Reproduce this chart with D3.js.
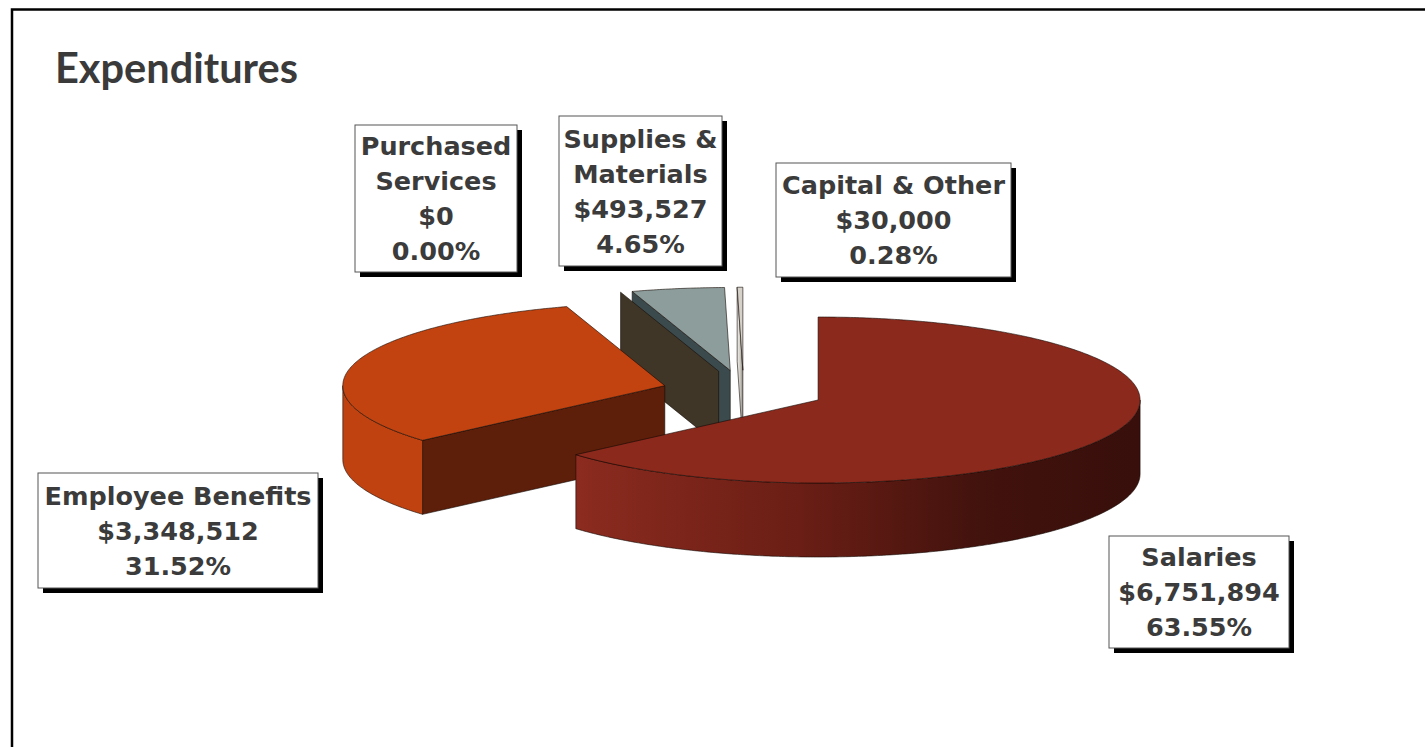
<!DOCTYPE html>
<html>
<head>
<meta charset="utf-8">
<script src="https://cdn.jsdelivr.net/npm/d3@7"></script>
<style>
  html, body { margin: 0; padding: 0; background: #fff; }
  svg { display: block; }
</style>
</head>
<body>
<svg id="chart" width="1425" height="747"></svg>
<script>
// ---- data ----
const categories = ["Salaries", "Employee Benefits", "Purchased Services", "Supplies & Materials", "Capital & Other"];
const values = [6751894, 3348512, 0, 493527, 30000];
const labelLines = [["Salaries"], ["Employee Benefits"], ["Purchased", "Services"], ["Supplies &", "Materials"], ["Capital & Other"]];

// ---- styles ----
const topColors = ["#8c291d", "#c24310", "#3f3628", "#8d9d9b", "#d6d2ca"];
const sideColors = ["url(#salSide)", "#bf4210", "#3f3628", "#3b4a4c", "#bdbab4"];
const radialColors = ["#5a1a12", "#5d1e0a", "#3f3628", "#3b4a4c", "url(#capFace)"];

// label box layout (x, y, width, height)
const labelBoxes = [
  { x: 1109, y: 536, w: 180, h: 112 },
  { x: 38, y: 473, w: 280, h: 115 },
  { x: 355, y: 125, w: 162, h: 147 },
  { x: 559, y: 116, w: 163, h: 150 },
  { x: 776, y: 163, w: 235, h: 114 }
];

const W = 1425, H = 747;
const svg = d3.select("#chart");

const defs = svg.append("defs");
const g1 = defs.append("linearGradient").attr("id", "salSide")
  .attr("gradientUnits", "userSpaceOnUse").attr("x1", 575).attr("x2", 1140).attr("y1", 0).attr("y2", 0);
[[0, "#8c2b1f"], [0.4, "#6a1e15"], [0.72, "#42120d"], [1, "#380f0b"]].forEach(s =>
  g1.append("stop").attr("offset", s[0]).attr("stop-color", s[1]));
const g2 = defs.append("linearGradient").attr("id", "capFace")
  .attr("x1", 0).attr("x2", 1).attr("y1", 0).attr("y2", 0);
[[0, "#f2f0ea"], [0.5, "#cfccc4"], [1, "#8e8b85"]].forEach(s =>
  g2.append("stop").attr("offset", s[0]).attr("stop-color", s[1]));

// outer frame
svg.append("rect")
  .attr("x", 12).attr("y", 9.5).attr("width", W + 40).attr("height", H + 40)
  .attr("fill", "#fff").attr("stroke", "#000").attr("stroke-width", 2.5);

// title
svg.append("text")
  .attr("x", 55).attr("y", 83)
  .attr("font-family", "Lato, 'Open Sans', sans-serif")
  .attr("font-weight", 700).attr("font-size", 41.5)
  .attr("fill", "#3a3a3a")
  .text("Expenditures");

// ---- pie geometry ----
const total = d3.sum(values);
const pie = d3.pie().sort(null).value(d => d.value).startAngle(0).endAngle(2 * Math.PI);
const slices = pie(categories.map((c, i) => ({ name: c, value: values[i], lines: labelLines[i], i })));

const cx = 743.6, cy = 391.3, RX = 322, RY = 83, DEPTH = 74, EXPLODE = 0.254;
// unit-circle coordinates to screen coordinates (tilted ellipse)
const xs = d3.scaleLinear().domain([-1, 1]).range([cx - RX, cx + RX]);
const ys = d3.scaleLinear().domain([-1, 1]).range([cy - RY, cy + RY]);

function point(d, a, r, h) {
  const mid = (d.startAngle + d.endAngle) / 2;
  const ox = EXPLODE * Math.sin(mid), oy = -EXPLODE * Math.cos(mid);
  return [xs(ox + r * Math.sin(a)), ys(oy - r * Math.cos(a)) + h];
}
function arcPoints(d, a0, a1, h) {
  const n = Math.max(2, Math.ceil((a1 - a0) / 0.01));
  return d3.range(n + 1).map(k => point(d, a0 + (a1 - a0) * k / n, 1, h));
}
const line = d3.line().curve(d3.curveLinearClosed);

// draw back slices first
const order = slices.slice().sort((a, b) => point(a, 0, 0, 0)[1] - point(b, 0, 0, 0)[1]);
const pieG = svg.append("g");
const stroke = "rgba(20,10,5,0.75)";

order.forEach(d => {
  const i = d.data.i;
  const g = pieG.append("g");
  const a0 = d.startAngle, a1 = d.endAngle;
  const apexT = point(d, 0, 0, 0), apexB = point(d, 0, 0, DEPTH);
  // radial faces facing the viewer
  if (Math.sin(a0) < -1e-6) {
    g.append("path")
      .attr("d", line([apexT, point(d, a0, 1, 0), point(d, a0, 1, DEPTH), apexB]))
      .attr("fill", radialColors[i]).attr("stroke", stroke).attr("stroke-width", 0.8);
  }
  if (Math.sin(a1) > 1e-6 && a1 > a0) {
    g.append("path")
      .attr("d", line([apexT, point(d, a1, 1, 0), point(d, a1, 1, DEPTH), apexB]))
      .attr("fill", radialColors[i]).attr("stroke", stroke).attr("stroke-width", 0.8);
  }
  // curved outer wall (front half only)
  const lo = Math.max(a0, Math.PI / 2), hi = Math.min(a1, 3 * Math.PI / 2);
  if (hi > lo) {
    const pts = arcPoints(d, lo, hi, 0).concat(arcPoints(d, lo, hi, DEPTH).reverse());
    g.append("path").attr("d", line(pts))
      .attr("fill", sideColors[i]).attr("stroke", stroke).attr("stroke-width", 0.8);
  }
  // top face
  if (a1 > a0) {
    const pts = [apexT].concat(arcPoints(d, a0, a1, 0));
    g.append("path").attr("d", line(pts))
      .attr("fill", topColors[i]).attr("stroke", stroke).attr("stroke-width", 0.8);
  }
});

// ---- labels ----
const fmtMoney = d3.format(",");
const fmtPct = d3.format(".2f");
const LINE = 35, CAP = 18;
slices.forEach(d => {
  const i = d.data.i, b = labelBoxes[i];
  const lines = d.data.lines.concat(["$" + fmtMoney(d.data.value), fmtPct(d.data.value / total * 100) + "%"]);
  const g = svg.append("g");
  g.append("rect").attr("x", b.x + 5).attr("y", b.y + 5).attr("width", b.w).attr("height", b.h).attr("fill", "#000");
  g.append("rect").attr("x", b.x).attr("y", b.y).attr("width", b.w).attr("height", b.h)
    .attr("fill", "#fff").attr("stroke", "#555").attr("stroke-width", 1);
  const y0 = b.y + (b.h - (lines.length - 1) * LINE) / 2 + CAP / 2;
  lines.forEach((t, k) => {
    g.append("text")
      .attr("x", b.x + b.w / 2).attr("y", y0 + k * LINE)
      .attr("text-anchor", "middle")
      .attr("font-family", "'DejaVu Sans', Verdana, sans-serif")
      .attr("font-weight", 700).attr("font-size", 25.5)
      .attr("fill", "#3b3b3b")
      .text(t);
  });
});
</script>
</body>
</html>
